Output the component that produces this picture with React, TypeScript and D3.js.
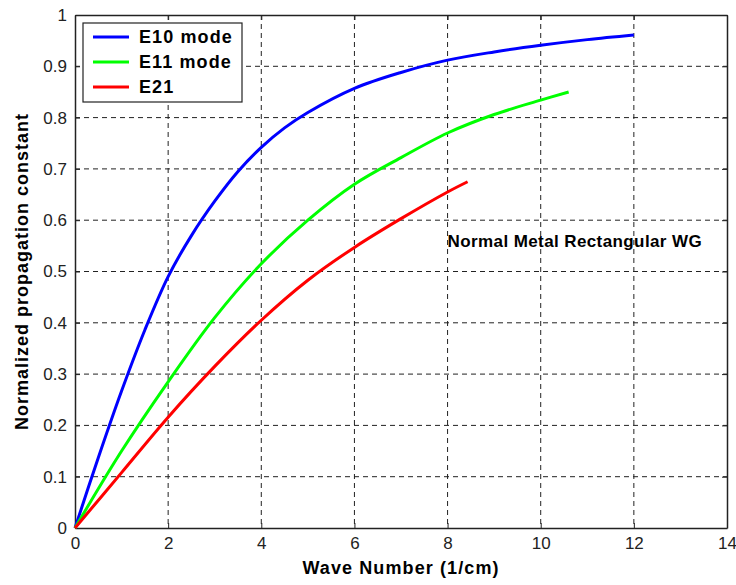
import { useEffect, useRef } from 'react'
import * as d3 from 'd3'

// wave number (1/cm) and normalized propagation constant
const e10X = [0, 0.5, 1, 1.5, 2, 2.5, 3, 3.5, 4, 4.5, 5, 6, 7, 8, 9, 10, 11, 12]
const e10Y = [0, 0.137, 0.267, 0.386, 0.49, 0.57, 0.637, 0.695, 0.742, 0.78, 0.81, 0.857, 0.888, 0.912, 0.928, 0.941, 0.952, 0.961]

const e11X = [0, 1, 2, 3, 4, 5, 6, 7, 8, 9, 10, 10.6]
const e11Y = [0, 0.15, 0.285, 0.41, 0.515, 0.6, 0.67, 0.722, 0.77, 0.806, 0.834, 0.85]

const e21X = [0, 1, 2, 3, 4, 5, 6, 7, 8, 8.43]
const e21Y = [0, 0.108, 0.216, 0.315, 0.405, 0.483, 0.547, 0.603, 0.655, 0.675]

const seriesNames = ['E10 mode', 'E11 mode', 'E21']
const seriesColors = ['#0000ff', '#00ff00', '#ff0000']

const xTicks = [0, 2, 4, 6, 8, 10, 12, 14]
const yTicks = [0, 0.1, 0.2, 0.3, 0.4, 0.5, 0.6, 0.7, 0.8, 0.9, 1]

const W = 736
const H = 585
const margin = { top: 15, right: 9, bottom: 57, left: 75 }

export default function App() {
  const svgRef = useRef<SVGSVGElement>(null)

  useEffect(() => {
    const svg = d3.select(svgRef.current)
    svg.selectAll('*').remove()

    const w = W - margin.left - margin.right
    const h = H - margin.top - margin.bottom
    const font = '"Liberation Sans", Arial, sans-serif'

    const x = d3.scaleLinear().domain([0, 14]).range([0, w])
    const y = d3.scaleLinear().domain([0, 1]).range([h, 0])

    svg.append('rect').attr('width', W).attr('height', H).attr('fill', '#fff')

    const g = svg.append('g').attr('transform', `translate(${margin.left},${margin.top})`)

    // dashed grid
    g.append('g')
      .selectAll('line')
      .data(xTicks.slice(1, -1))
      .join('line')
      .attr('x1', (d) => x(d))
      .attr('x2', (d) => x(d))
      .attr('y1', 0)
      .attr('y2', h)
      .attr('stroke', '#222')
      .attr('stroke-dasharray', '5,4')
    g.append('g')
      .selectAll('line')
      .data(yTicks.slice(1, -1))
      .join('line')
      .attr('x1', 0)
      .attr('x2', w)
      .attr('y1', (d) => y(d))
      .attr('y2', (d) => y(d))
      .attr('stroke', '#222')
      .attr('stroke-dasharray', '5,4')

    // axes, matlab style: ticks point inward
    const ax = g.append('g').attr('transform', `translate(0,${h})`)
      .call(d3.axisBottom(x).tickValues(xTicks).tickSizeInner(-5).tickSizeOuter(0).tickPadding(12))
    const ay = g.append('g')
      .call(d3.axisLeft(y).tickValues(yTicks).tickFormat((d) => String(d)).tickSizeInner(-5).tickSizeOuter(0).tickPadding(8))
    g.append('g').call(d3.axisTop(x).tickValues(xTicks).tickSizeInner(-5).tickSizeOuter(0).tickFormat(() => ''))
    g.append('g').attr('transform', `translate(${w},0)`)
      .call(d3.axisRight(y).tickValues(yTicks).tickSizeInner(-5).tickSizeOuter(0).tickFormat(() => ''))
    g.selectAll('.domain').attr('stroke', '#222').attr('stroke-width', 1.5)
    g.selectAll('.tick line').attr('stroke', '#222')
    ;[ax, ay].forEach((a) =>
      a.selectAll('text').style('font-family', font).style('font-size', '17px').style('fill', '#222')
    )
    ax.selectAll('text').attr('dy', '0.5em')

    const line = d3.line<[number, number]>()
      .x((d) => x(d[0]))
      .y((d) => y(d[1]))
      .curve(d3.curveCatmullRom)

    const series = [
      e10X.map((v, i) => [v, e10Y[i]] as [number, number]),
      e11X.map((v, i) => [v, e11Y[i]] as [number, number]),
      e21X.map((v, i) => [v, e21Y[i]] as [number, number]),
    ]

    g.append('g')
      .selectAll('path')
      .data(series)
      .join('path')
      .attr('fill', 'none')
      .attr('stroke', (d, i) => seriesColors[i])
      .attr('stroke-width', 3)
      .attr('stroke-linejoin', 'round')
      .attr('d', line)

    // annotation
    g.append('text')
      .attr('x', x(8.0))
      .attr('y', y(0.56))
      .attr('dy', '0.35em')
      .style('font-family', font)
      .style('font-weight', 'bold')
      .style('font-size', '17px')
      .style('letter-spacing', '0.4px')
      .text('Normal Metal Rectangular WG')

    // legend
    const lg = g.append('g').attr('transform', 'translate(8,8)')
    lg.append('rect')
      .attr('width', 159)
      .attr('height', 79)
      .attr('fill', '#fff')
      .attr('stroke', '#222')
      .attr('stroke-width', 1.2)
    seriesNames.forEach((name, i) => {
      const ry = 14 + i * 25
      lg.append('line')
        .attr('x1', 10).attr('x2', 46)
        .attr('y1', ry).attr('y2', ry)
        .attr('stroke', seriesColors[i])
        .attr('stroke-width', 3)
      lg.append('text')
        .attr('x', 56)
        .attr('y', ry)
        .attr('dy', '0.36em')
        .style('font-family', font)
        .style('font-weight', 'bold')
        .style('font-size', '18px')
        .style('letter-spacing', '1.1px')
        .text(name)
    })

    // axis titles
    svg.append('text')
      .attr('x', margin.left + w / 2)
      .attr('y', 574)
      .attr('text-anchor', 'middle')
      .style('font-family', font)
      .style('font-weight', 'bold')
      .style('font-size', '18px')
      .style('letter-spacing', '1.1px')
      .text('Wave Number (1/cm)')
    svg.append('text')
      .attr('transform', `translate(22,${margin.top + h / 2}) rotate(-90)`)
      .attr('text-anchor', 'middle')
      .attr('dy', '0.35em')
      .style('font-family', font)
      .style('font-weight', 'bold')
      .style('font-size', '18px')
      .style('letter-spacing', '1px')
      .text('Normalized propagation constant')
  }, [])

  return <svg ref={svgRef} width={W} height={H} style={{ position: 'absolute', left: 0, top: 0 }} />
}
